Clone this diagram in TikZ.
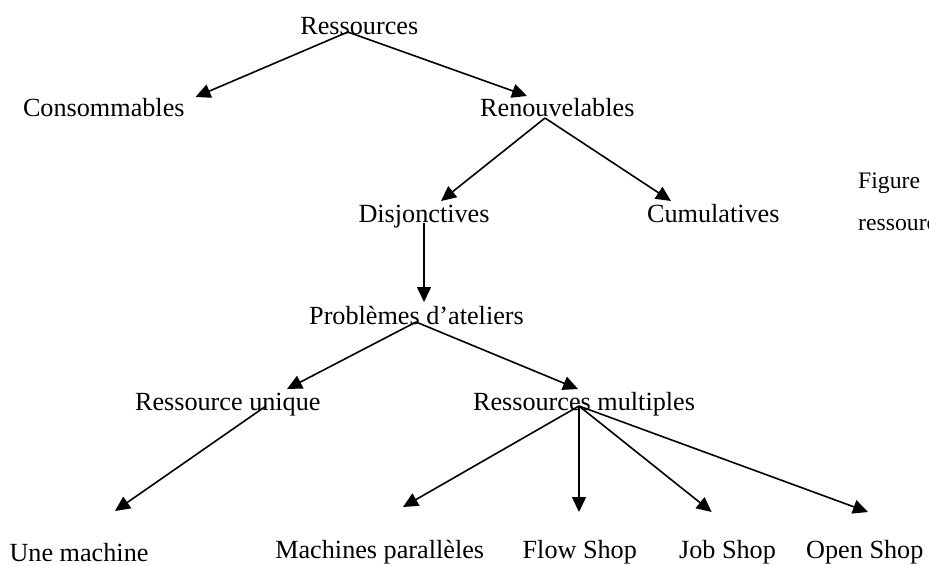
\documentclass[tikz,border=0pt]{standalone}
\usepackage{fontspec}
\setmainfont{Liberation Serif}
\usetikzlibrary{arrows.meta}
\begin{document}
\begin{tikzpicture}[x=1pt,y=-1pt,
  lbl/.style={inner sep=0pt,anchor=base,font=\fontsize{26.2}{30}\selectfont},
  figtext/.style={inner sep=0pt,anchor=base west,font=\fontsize{23.7}{28}\selectfont},
  link/.style={-{Triangle[length=15pt,width=14pt]},line width=1.6pt,black}]
\path[use as bounding box,clip] (0,0) rectangle (929,565);

% classification tree of resources
\node[lbl] (res)  at (359.3,34.5) {Ressources};
\node[lbl] (cons) at (103.8,116)  {Consommables};
\node[lbl] (ren)  at (557.3,116)  {Renouvelables};
\node[lbl] (dis)  at (424,222)    {Disjonctives};
\node[lbl] (cum)  at (713.3,222)  {Cumulatives};
\node[lbl] (prob) at (416.5,324)  {Problèmes d’ateliers};
\node[lbl] (uni)  at (227.8,410)  {Ressource unique};
\node[lbl] (mult) at (584,410)    {Ressources multiples};
\node[lbl] (une)  at (79,561)     {Une machine};
\node[lbl] (par)  at (379.7,558)  {Machines parallèles};
\node[lbl] (flow) at (579.8,558)  {Flow Shop};
\node[lbl] (job)  at (727.5,558)  {Job Shop};
\node[lbl] (open) at (864.8,558)  {Open Shop};

% caption running off the right edge
\node[figtext] (fig1) at (858,188) {Figure};
\node[figtext] (fig2) at (858,230) {ressources};

% branches
\draw[link] ([shift={(-11.5,-2.5)}]res.base) -- ([shift={(91.7,-19)}]cons.base);
\draw[link] ([shift={(-11.5,-2.5)}]res.base) -- ([shift={(-30.3,-20)}]ren.base);
\draw[link] ([shift={(-12.3,2)}]ren.base) -- ([shift={(17,-21)}]dis.base);
\draw[link] ([shift={(-12.3,2)}]ren.base) -- ([shift={(-42.3,-21)}]cum.base);
\draw[link] ([shift={(0,1)}]dis.base) -- ([shift={(7.5,-22)}]prob.base);
\draw[link] ([shift={(-0.5,-2)}]prob.base) -- ([shift={(59.2,-21)}]uni.base);
\draw[link] ([shift={(-0.5,-2)}]prob.base) -- ([shift={(-6,-21)}]mult.base);
\draw[link] ([shift={(38.2,-4)}]uni.base) -- ([shift={(36,-50)}]une.base);
\draw[link] ([shift={(-5,-4)}]mult.base) -- ([shift={(23.3,-51)}]par.base);
\draw[link] ([shift={(-5,-4)}]mult.base) -- ([shift={(-0.8,-46)}]flow.base);
\draw[link] ([shift={(-5,-4)}]mult.base) -- ([shift={(-15.8,-46)}]job.base);
\draw[link] ([shift={(-5,-4)}]mult.base) -- ([shift={(3.2,-46)}]open.base);
\end{tikzpicture}
\end{document}
